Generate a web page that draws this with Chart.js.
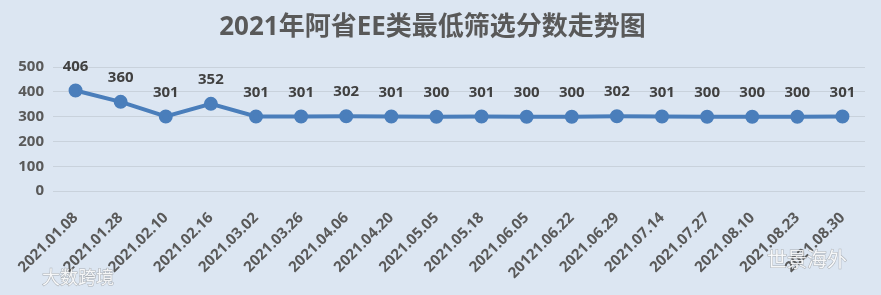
<!DOCTYPE html>
<html>
<head>
<meta charset="utf-8">
<script src="https://cdn.jsdelivr.net/npm/chart.js@4/dist/chart.umd.min.js"></script>
<style>
  html, body { margin: 0; padding: 0; background: #dce6f2; }
  #wrap { width: 881px; height: 295px; position: relative; }
</style>
</head>
<body>
<div id="wrap"><canvas id="lineChart" width="881" height="295"></canvas></div>
<script>
  'use strict'

  var dates = ['2021.01.08', '2021.01.28', '2021.02.10', '2021.02.16', '2021.03.02', '2021.03.26',
    '2021.04.06', '2021.04.20', '2021.05.05', '2021.05.18', '2021.06.05', '20121.06.22',
    '2021.06.29', '2021.07.14', '2021.07.27', '2021.08.10', '2021.08.23', '2021.08.30'];
  var scores = [406, 360, 301, 352, 301, 301, 302, 301, 300, 301, 300, 300, 302, 301, 300, 300, 300, 301];
  var yTicks = [0, 100, 200, 300, 400, 500];

  var FONT = '"Noto Sans", "Noto Sans CJK SC", sans-serif';

  //value labels above points + watermarks
  var pointLabels = {
    id: 'pointLabels',
    afterDatasetsDraw: function(chart) {
      var ctx = chart.ctx;
      var meta = chart.getDatasetMeta(0);
      ctx.save();
      ctx.font = 'bold 15px ' + FONT;
      ctx.fillStyle = '#404040';
      ctx.textAlign = 'center';
      ctx.textBaseline = 'middle';
      meta.data.forEach(function(pt, i) {
        ctx.fillText(scores[i], pt.x, pt.y - 24);
      });
      ctx.restore();
    },
    afterDraw: function(chart) {
      var ctx = chart.ctx;
      ctx.save();
      ctx.font = '18px "Noto Sans CJK SC", sans-serif';
      ctx.textBaseline = 'middle';
      ctx.fillStyle = 'rgba(255,255,255,0.85)';
      ctx.strokeStyle = 'rgba(120,120,120,0.5)';
      ctx.lineWidth = 1;
      ctx.strokeText('大数跨境', 42, 277);
      ctx.fillText('大数跨境', 42, 277);
      ctx.font = '20px "Noto Sans CJK SC", sans-serif';
      ctx.strokeText('世景海外', 767, 259);
      ctx.fillText('世景海外', 767, 259);
      ctx.restore();
    }
  };

  var ctx = document.getElementById('lineChart');
  var myChart = new Chart(ctx, {
    type: 'line',
    data: {
      labels: dates,
      datasets: [{
        data: scores,
        borderColor: '#4a7ebb',
        backgroundColor: '#4a7ebb',
        borderWidth: 4,
        pointRadius: 5,
        pointHoverRadius: 5,
        tension: 0
      }]
    },
    options: {
      responsive: false,
      animation: false,
      layout: { padding: { left: 0, right: 16, top: 0, bottom: 0 } },
      plugins: {
        legend: { display: false },
        tooltip: { enabled: false },
        title: {
          display: true,
          text: '2021年阿省EE类最低筛选分数走势图',
          color: '#595959',
          font: { family: FONT, size: 26, weight: 'bold' },
          padding: { top: 12, bottom: 24 }
        }
      },
      scales: {
        x: {
          offset: true,
          grid: { display: false, drawTicks: false },
          border: { display: false },
          ticks: {
            color: '#595959',
            font: { family: FONT, size: 15, weight: 'bold' },
            minRotation: 45,
            maxRotation: 45,
            autoSkip: false,
            padding: 18
          },
          afterFit: function(scale) { scale.height = 104; }
        },
        y: {
          min: 0,
          max: 500,
          afterBuildTicks: function(scale) {
            scale.ticks = yTicks.map(function(v) { return { value: v }; });
          },
          grid: { color: '#c9d2dc', drawTicks: false, lineWidth: 1 },
          border: { display: false },
          ticks: {
            color: '#595959',
            font: { family: FONT, size: 15, weight: 'bold' },
            padding: 9
          },
          afterFit: function(scale) { scale.width = 53; }
        }
      }
    },
    plugins: [pointLabels]
  });
</script>
</body>
</html>
